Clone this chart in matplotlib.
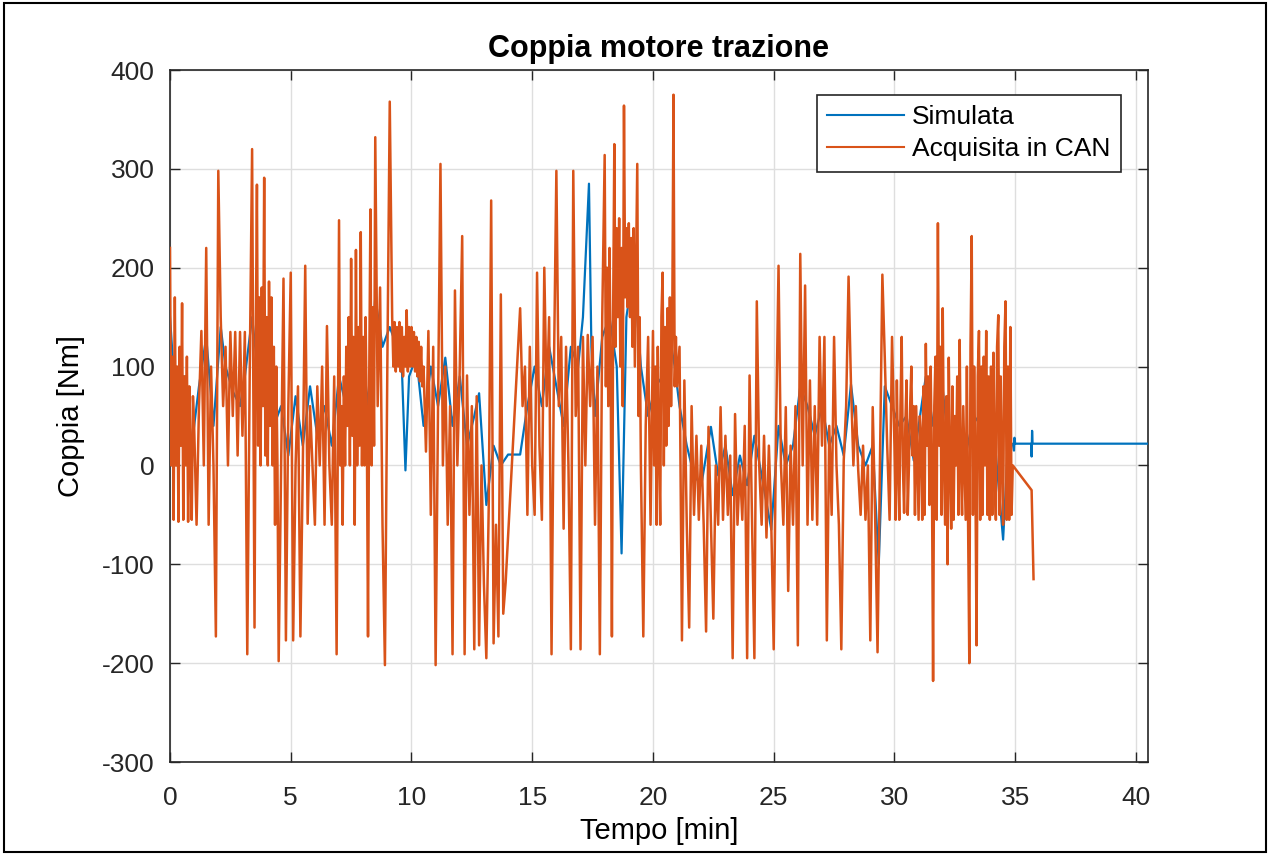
import matplotlib
matplotlib.use('Agg')
import matplotlib.pyplot as plt
from matplotlib.patches import Rectangle

# ---------------- data ----------------
# Acquisita in CAN (orange) -- time [min] and torque [Nm]
t_can = [0.0, 0.05, 0.1, 0.15, 0.2, 0.25, 0.3, 0.35, 0.4, 0.45,
         0.5, 0.55, 0.6, 0.65, 0.7, 0.75, 0.8, 0.85, 0.9, 0.95,
         1.0, 1.1, 1.2, 1.3, 1.4, 1.5, 1.6, 1.7, 1.8, 1.9,
         2.0, 2.1, 2.2, 2.3, 2.4, 2.5, 2.6, 2.7, 2.8, 2.9,
         3.0, 3.1, 3.2, 3.3, 3.4,
         3.5, 3.55, 3.6, 3.65, 3.7, 3.75, 3.8, 3.85, 3.9, 3.95,
         4.0, 4.05, 4.1, 4.15, 4.2, 4.25, 4.3, 4.35, 4.4, 4.45,
         4.5, 4.6, 4.7, 4.8, 4.9,
         5.0, 5.1, 5.2, 5.3, 5.4, 5.5, 5.6, 5.7, 5.8, 5.9,
         6.0, 6.1, 6.2, 6.3, 6.4, 6.5, 6.6, 6.7, 6.8, 6.9,
         7.0, 7.05, 7.1, 7.15, 7.2, 7.25, 7.3, 7.35, 7.4, 7.45,
         7.5, 7.55, 7.6, 7.65, 7.7, 7.75, 7.8, 7.85, 7.9, 7.95,
         8.0, 8.05, 8.1, 8.15, 8.2, 8.25, 8.3, 8.35, 8.4, 8.45, 8.5,
         8.6, 8.7, 8.8, 8.9, 9.0, 9.1,
         9.2, 9.25, 9.3, 9.35, 9.4, 9.45, 9.5, 9.55, 9.6, 9.65,
         9.7, 9.75, 9.8, 9.85, 9.9, 9.95, 10.0, 10.05, 10.1, 10.15,
         10.2, 10.25, 10.3, 10.35, 10.4, 10.45,
         10.5, 10.6, 10.7, 10.8, 10.9,
         11.0, 11.1, 11.2, 11.3, 11.4, 11.5, 11.6, 11.7, 11.8, 11.9,
         12.0, 12.1, 12.2, 12.3, 12.4, 12.5, 12.6, 12.7, 12.8, 12.9,
         13.0, 13.1, 13.2, 13.3, 13.4, 13.5, 13.6, 13.7, 13.8, 13.9,
         14.5, 14.6, 14.7, 14.8, 14.9,
         15.0, 15.1, 15.2, 15.3, 15.4, 15.5, 15.6, 15.7, 15.8, 15.9,
         16.0, 16.1, 16.2, 16.3, 16.4, 16.5, 16.6, 16.7, 16.8, 16.9,
         17.0, 17.1, 17.2, 17.3, 17.4, 17.5, 17.6, 17.7, 17.8, 17.9,
         18.0, 18.05, 18.1, 18.15, 18.2, 18.25, 18.3, 18.35, 18.4, 18.45,
         18.5, 18.55, 18.6, 18.65, 18.7, 18.75, 18.8, 18.85, 18.9, 18.95,
         19.0, 19.05, 19.1, 19.15, 19.2, 19.25, 19.3, 19.35, 19.4, 19.45,
         19.5, 19.6, 19.7, 19.8, 19.9,
         20.0, 20.05, 20.1, 20.15, 20.2, 20.25, 20.3, 20.35, 20.4, 20.45,
         20.5, 20.55, 20.6, 20.65, 20.7, 20.75, 20.8, 20.85, 20.9, 20.95, 21.0,
         21.1, 21.2, 21.3, 21.4, 21.5, 21.6, 21.7, 21.8, 21.9,
         22.0, 22.1, 22.2, 22.3, 22.4, 22.5, 22.6, 22.7, 22.8, 22.9,
         23.0, 23.1, 23.2, 23.3, 23.4, 23.5, 23.6, 23.7, 23.8, 23.9,
         24.0, 24.1, 24.2, 24.3, 24.4, 24.5, 24.6, 24.7, 24.8, 24.9,
         25.0, 25.1, 25.2, 25.3, 25.4, 25.5, 25.6, 25.7, 25.8, 25.9,
         26.0, 26.1, 26.2, 26.3, 26.4, 26.5, 26.6, 26.7, 26.8, 26.9,
         27.0, 27.1, 27.2, 27.3, 27.4, 27.5, 27.6, 27.7, 27.8, 27.9,
         28.0, 28.1, 28.2, 28.3, 28.4, 28.5, 28.6, 28.7, 28.8, 28.9,
         29.0, 29.1, 29.2, 29.3, 29.4, 29.5, 29.6, 29.7, 29.8, 29.9,
         30.0, 30.05, 30.1, 30.15, 30.2, 30.25, 30.3, 30.35, 30.4, 30.45,
         30.5, 30.55, 30.6, 30.65, 30.7, 30.75, 30.8, 30.85, 30.9, 30.95,
         31.0, 31.05, 31.1, 31.15, 31.2, 31.25, 31.3, 31.35, 31.4, 31.45,
         31.5, 31.55, 31.6, 31.65, 31.7, 31.75, 31.8, 31.85, 31.9, 31.95,
         32.0, 32.05, 32.1, 32.15, 32.2, 32.25, 32.3, 32.35, 32.4, 32.45,
         32.5, 32.55, 32.6, 32.65, 32.7, 32.75, 32.8, 32.85, 32.9, 32.95,
         33.0, 33.05, 33.1, 33.15, 33.2, 33.25, 33.3, 33.35, 33.4, 33.45,
         33.5, 33.55, 33.6, 33.65, 33.7, 33.75, 33.8, 33.85, 33.9, 33.95,
         34.0, 34.05, 34.1, 34.15, 34.2, 34.25, 34.3, 34.35, 34.4, 34.45,
         34.5, 34.55, 34.6, 34.65, 34.7, 34.75, 34.8, 34.85, 34.9,
         35.68, 35.76]

v_can = [220, 0, 110, -55, 170, 0, 100, -57, 120, 20,
         164, -55, 90, 0, 110, -57, 80, 0, -55, 70,
         40, -60, 60, 136, 0, 220, -60, 100, 0, -173,
         298, 150, 60, 120, 0, 135, 50, 135, 10, 135,
         30, 135, -191, 90, 320,
         -164, 120, 284, 20, 170, 0, 180, 60, 291, 10,
         150, 0, 186, 40, 170, 0, 120, -60, 100, 0,
         -198, 0, 189, -177, 60,
         195, -177, 0, 80, -173, 0, 202, -59, 60, 0,
         -60, 80, 0, 100, -60, 141, 0, -60, 90, -191,
         248, 0, 60, -60, 90, 0, 120, 40, 150, 0,
         209, 30, 130, -60, 218, 0, 140, 20, 236, 0,
         130, 0, 150, 40, -173, 90, 259, 0, 160, 20, 332,
         60, 180, -60, -202, 100, 368,
         150, 100, 145, 95, 140, 100, 145, 95, 140, 90,
         130, 100, 157, 95, 140, 100, 140, 100, 135, 95,
         130, 90, 125, 85, 120, 80,
         100, 14, 136, -50, 120,
         -202, 60, 305, 0, 100, -60, 60, -191, 177, 0,
         100, 232, -191, 91, -50, 60, -186, 70, -182, 0,
         -120, -195, -40, 268, -180, -60, -173, 173, -150, -118,
         159, 60, 100, -50, 120,
         0, -50, 195, 20, -55, 200, 60, 150, -191, 100,
         298, 60, 130, -64, 120, 0, -186, 298, 50, 120,
         -186, 130, 0, 132, 60, 130, -60, 100, -191, 150,
         314, 80, 200, 60, 220, 100, -173, 150, 325, 120,
         240, 150, 250, 100, 220, 60, 364, 170, 240, 160,
         245, 150, 230, 120, 240, 100, 200, 305, 50, 150,
         0, -173, 40, 130, -60,
         136, 0, 100, -60, 120, 20, -60, 150, 195, 0,
         140, 20, 159, 40, 170, 60, 150, 375, 80, 130, 80,
         120, -177, 86, -60, -164, 60, -50, 30, -55,
         20, -60, -168, 39, -60, -155, 0, -60, 59, -55,
         30, -50, 10, -195, 52, -60, 0, -55, 40, -195,
         91, -50, -195, 166, 0, -60, 30, -73, 20, -60,
         -186, 40, 202, 0, -60, 59, -127, 20, -60, 60,
         -182, 214, 0, 182, -60, 86, -55, 60, -60, 130,
         20, 130, -177, 40, -50, 130, 0, -60, -186, 5,
         60, 191, 82, 0, 60, -5, -50, 20, -55, 0,
         -177, 59, -50, -189, 0, 193, 109, 20, -55, 130,
         20, -55, 86, 0, -55, 60, 130, 0, -48, 40,
         86, -50, 0, 60, 100, 10, 60, -50, 60, 0,
         -55, 50, 30, -55, 80, -50, 123, 20, 90, -40,
         100, 0, -218, 60, 110, -55, 245, 20, 120, -50,
         159, 0, -60, 70, -100, 109, 0, -64, 80, -55,
         50, 0, 90, -50, 127, 0, -50, 60, 5, -55,
         100, -60, -200, 120, 232, -50, 100, 0, -182, 90,
         136, -55, 100, -50, 110, 0, 136, -50, 90, -55,
         100, -50, 114, 0, -55, 120, 152, -50, 90, 0,
         -60, 120, 166, -55, 100, -55, 140, -50, 0,
         -25, -115]

# Simulata (blue)
t_sim = [0.0, 0.3, 0.6, 0.9, 1.2, 1.5, 1.8, 2.1, 2.3, 2.6, 2.9, 3.1, 3.4, 3.7,
         4.0, 4.3, 4.6, 4.9, 5.2, 5.5, 5.8, 6.1, 6.4, 6.7, 7.0, 7.3, 7.6, 7.9,
         8.2, 8.5, 8.8, 9.1, 9.4, 9.6, 9.75, 9.9, 10.2, 10.5, 10.8, 11.1, 11.4,
         11.7, 12.0, 12.3, 12.6, 12.8, 13.1, 13.4, 13.7, 14.0, 14.5, 14.8, 15.1,
         15.4, 15.7, 16.0, 16.3, 16.6, 16.9, 17.1, 17.35, 17.45, 17.6, 17.9,
         18.2, 18.5, 18.7, 18.9, 19.2, 19.5, 19.8, 20.1, 20.4, 20.7, 20.9, 21.1,
         21.4, 21.7, 22.0, 22.4, 22.7, 23.0, 23.3, 23.6, 23.9, 24.2, 24.5, 24.9,
         25.2, 25.5, 25.8, 26.1, 26.4, 26.7, 27.0, 27.3, 27.6, 27.9, 28.2, 28.5,
         28.8, 29.1, 29.35, 29.6, 29.9, 30.2, 30.5, 30.8, 31.0, 31.3, 31.6, 31.9,
         32.2, 32.5, 32.9, 33.2, 33.5, 33.8, 34.1, 34.5, 34.7, 34.9, 34.95, 34.97,
         35.0, 35.66, 35.68, 35.7, 35.72, 40.5]

v_sim = [150, 40, 90, 20, 80, 130, 40, 140, 100, 75, 60, 90, 150, 80,
         120, 40, 60, 10, 70, 20, 80, 30, 60, 20, 90, 60, 110, 130,
         60, 170, 120, 140, 120, 100, -5, 90, 110, 40, 100, 60, 109,
         40, 90, 20, 50, 73, -40, 20, 0, 11, 11, 60, 100,
         60, 120, 80, 40, 120, 100, 150, 285, 120, 50, 130,
         150, 100, -89, 150, 200, 100, 50, 80, 90, 130, 100, 60,
         20, -10, -20, 39, -10, 20, -30, 10, -20, 30, -10, -65,
         40, 0, 20, 80, 60, 30, 60, 20, 40, 10, 82, 20,
         0, 20, -100, 80, 60, 40, 50, 5, 40, 90, 40, 100,
         30, 20, 5, 40, 50, 30, 40, -75, 20, 22, 15, 28,
         22, 22, 9, 35, 22, 22]

x_ticks = [0, 5, 10, 15, 20, 25, 30, 35, 40]
y_ticks = [-300, -200, -100, 0, 100, 200, 300, 400]

assert len(t_can) == len(v_can) and len(t_sim) == len(v_sim)

# ---------------- figure ----------------
plt.rcParams['font.family'] = ['Liberation Sans', 'DejaVu Sans']
plt.rcParams['axes.unicode_minus'] = False

fig = plt.figure(figsize=(12.7, 8.55), dpi=100)
ax = fig.add_axes([170 / 1270, 1 - 762 / 855, 978 / 1270, 692 / 855])

ax.plot(t_sim, v_sim, color='#0072BD', lw=1.6, label='Simulata', zorder=3)
ax.plot(t_can, v_can, color='#D95319', lw=1.8, label='Acquisita in CAN', zorder=4)

ax.set_xlim(0, 40.5)
ax.set_ylim(-300, 400)
ax.set_xticks(x_ticks)
ax.set_yticks(y_ticks)
ax.grid(True, color='#dedede', lw=1.0, zorder=0)
ax.set_axisbelow(True)
ax.tick_params(direction='in', length=7, width=1.0, top=True, right=True,
               labelsize=19, colors='#262626')
ax.tick_params(axis='x', pad=17)
ax.tick_params(axis='y', pad=11)
for s in ax.spines.values():
    s.set_color('#262626')
    s.set_linewidth(1.2)

ax.set_title('Coppia motore trazione', fontsize=22, fontweight='bold', pad=9)
ax.set_xlabel('Tempo [min]', fontsize=21, labelpad=5)
ax.set_ylabel('Coppia [Nm]', fontsize=21, labelpad=12)

leg = ax.legend(loc='upper right', bbox_to_anchor=(0.972, 0.964), fontsize=19,
                frameon=True, fancybox=False, framealpha=1, edgecolor='#262626',
                borderpad=0.4, handlelength=2.9, handletextpad=0.3,
                labelspacing=0.3, borderaxespad=0)
leg.get_frame().set_linewidth(1.2)
for ln in leg.get_lines():
    ln.set_linewidth(1.5)

fig.patches.append(Rectangle((0.003, 0.003), 0.994, 0.994, transform=fig.transFigure,
                             fill=False, ec='black', lw=1.5))

fig.savefig('out.png', dpi=100)
